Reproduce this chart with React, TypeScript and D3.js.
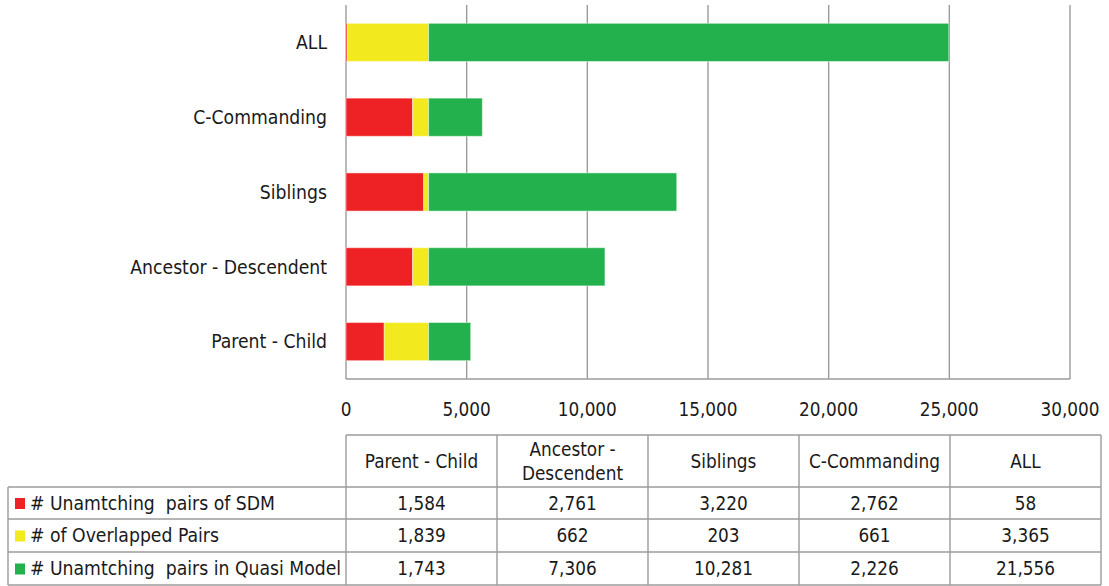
import React from 'react';
import * as d3 from 'd3';

const categories = ['Parent - Child', 'Ancestor - Descendent', 'Siblings', 'C-Commanding', 'ALL'];
const headerLines = [['Parent - Child'], ['Ancestor -', 'Descendent'], ['Siblings'], ['C-Commanding'], ['ALL']];
const seriesNames = ['# Unamtching  pairs of SDM', '# of Overlapped Pairs', '# Unamtching  pairs in Quasi Model'];
const seriesColors = ['#ee2224', '#f2ea1e', '#22b14c'];
const sdm = [1584, 2761, 3220, 2762, 58];
const overlapped = [1839, 662, 203, 661, 3365];
const quasi = [1743, 7306, 10281, 2226, 21556];
const xTicks = [0, 5000, 10000, 15000, 20000, 25000, 30000];

const W = 1109;
const H = 586;
const FONT = '"DejaVu Sans Condensed", "DejaVu Sans", Verdana, sans-serif';
const FS = 19.2;
const GRID = '#9b9b9b';

const App = () => {
  const series = [sdm, overlapped, quasi];
  const rows = categories.map((c, i) => ({ cat: c, s0: sdm[i], s1: overlapped[i], s2: quasi[i] }));
  const stacked = d3.stack<any>().keys(['s0', 's1', 's2'])(rows);

  const x = d3.scaleLinear().domain([0, 30000]).range([346, 1070]);
  // ALL on top, Parent - Child at bottom
  const y = d3.scaleBand().domain([...categories].reverse()).range([5, 379]).paddingInner(0.49).paddingOuter(0.245);
  const fmt = d3.format(',');

  // table geometry
  const colEdges = d3.range(6).map((i) => 346 + i * 151);
  const rowEdges = [487, 519, 552, 585];
  const headTop = 435;

  return (
    <>
      <style>{'body{margin:0}'}</style>
      <svg width={W} height={H} style={{ display: 'block', background: '#fff', fontStretch: 'condensed' }} fontFamily={FONT}>
        {/* grid */}
        {xTicks.map((t) => (
          <line key={t} x1={x(t)} x2={x(t)} y1={5} y2={379} stroke={GRID} strokeWidth={1.4} />
        ))}
        <line x1={x(0)} x2={x(30000)} y1={379} y2={379} stroke={GRID} strokeWidth={1.4} />

        {/* bars */}
        {stacked.map((layer, si) => (
          <g key={si} fill={seriesColors[si]}>
            {layer.map((d, i) => (
              <rect
                key={i}
                x={x(d[0])}
                y={y(d.data.cat)}
                width={Math.max(0, x(d[1]) - x(d[0]))}
                height={y.bandwidth()}
                stroke="#ffffff"
                strokeOpacity={0.45}
                strokeWidth={1}
              />
            ))}
          </g>
        ))}

        {/* category labels */}
        {categories.map((c) => (
          <text key={c} x={327} y={(y(c) as number) + y.bandwidth() / 2} dy="0.35em" textAnchor="end" fontSize={FS} fill="#1a1a1a">
            {c}
          </text>
        ))}

        {/* x tick labels */}
        {xTicks.map((t) => (
          <text key={t} x={x(t)} y={409} dy="0.35em" textAnchor="middle" fontSize={18.8} fill="#1a1a1a">
            {fmt(t)}
          </text>
        ))}

        {/* data table */}
        <g stroke={GRID} strokeWidth={1.4} fill="none">
          <line x1={colEdges[0]} x2={colEdges[5]} y1={headTop} y2={headTop} />
          {rowEdges.map((r) => (
            <line key={r} x1={8} x2={colEdges[5]} y1={r} y2={r} />
          ))}
          <line x1={8} x2={8} y1={rowEdges[0]} y2={rowEdges[3]} />
          {colEdges.map((c) => (
            <line key={c} x1={c} x2={c} y1={headTop} y2={rowEdges[3]} />
          ))}
        </g>

        {headerLines.map((lines, i) => {
          const cx = (colEdges[i] + colEdges[i + 1]) / 2;
          const cy = (headTop + rowEdges[0]) / 2;
          return (
            <text key={i} x={cx} textAnchor="middle" fontSize={18.8} fill="#1a1a1a">
              {lines.map((l, j) => (
                <tspan key={j} x={cx} y={cy + (j - (lines.length - 1) / 2) * 24} dy="0.35em">
                  {l}
                </tspan>
              ))}
            </text>
          );
        })}

        {seriesNames.map((name, si) => {
          const cy = (rowEdges[si] + rowEdges[si + 1]) / 2;
          return (
            <g key={name}>
              <rect x={15} y={cy - 5} width={10} height={11} fill={seriesColors[si]} />
              <text x={30} y={cy} dy="0.35em" fontSize={FS} fill="#1a1a1a" style={{ whiteSpace: 'pre' }}>
                {name}
              </text>
              {series[si].map((v, i) => (
                <text
                  key={i}
                  x={(colEdges[i] + colEdges[i + 1]) / 2}
                  y={cy}
                  dy="0.35em"
                  textAnchor="middle"
                  fontSize={18.8}
                  fill="#1a1a1a"
                >
                  {fmt(v)}
                </text>
              ))}
            </g>
          );
        })}
      </svg>
    </>
  );
};

export default App;
